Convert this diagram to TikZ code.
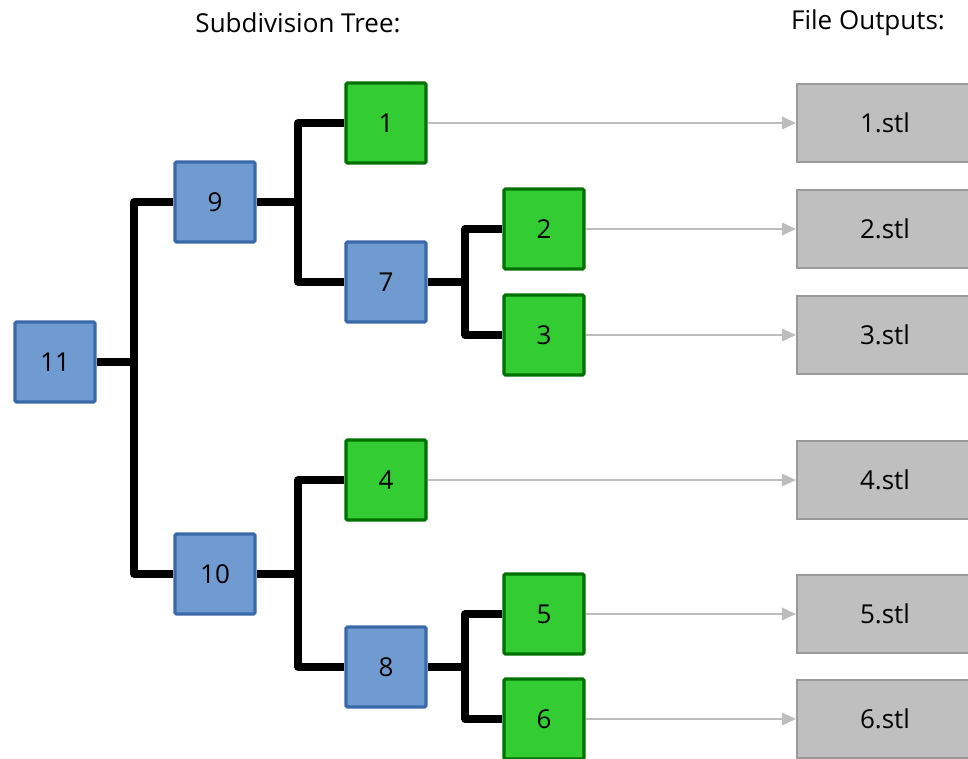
\documentclass[tikz,border=0pt]{standalone}
\usepackage{fontspec}
\setmainfont{Open Sans}
\usetikzlibrary{arrows.meta}

\definecolor{splitfill}{HTML}{6F9BD1}
\definecolor{splitline}{HTML}{3A69AA}
\definecolor{leaffill}{HTML}{33CC33}
\definecolor{leafline}{HTML}{007000}
\definecolor{filefill}{HTML}{BFBFBF}
\definecolor{fileline}{HTML}{9A9A9A}
\definecolor{outarrow}{HTML}{BDBDBD}

\begin{document}
\begin{tikzpicture}[x=0.025cm, y=-0.025cm,
    split/.style={draw=splitline, fill=splitfill, line width=2.2pt, rounded corners=1pt,
                  minimum width=2cm, minimum height=2cm, inner sep=0pt, font=\fontsize{18.5}{22}\selectfont},
    leaf/.style={split, draw=leafline, fill=leaffill},
    stlfile/.style={draw=fileline, fill=filefill, line width=1.5pt,
                  minimum width=4.4cm, minimum height=1.95cm, inner sep=0pt, font=\fontsize{18.5}{22}\selectfont},
    title/.style={font=\fontsize{18.5}{22}\selectfont},
    branch/.style={line width=5.5pt, line join=round},
    output/.style={draw=outarrow, line width=1.1pt, -{Triangle[length=10pt, width=9pt]}}]
    \useasboundingbox (0,0) rectangle (968,758);

    % Titles
    \node [title] (treehead) at (298,23) {Subdivision Tree:};
    \node [title] (filehead) at (868,23) {File Outputs:};

    % Nodes {11, 9, 10, 7, 8, leaves 1-6}
    \node [split] (n11) at (55,362)  {11};
    \node [split] (n9)  at (215,202) {9};
    \node [split] (n10) at (215,574) {10};
    \node [leaf]  (n1)  at (386,123) {1};
    \node [split] (n7)  at (386,282) {7};
    \node [leaf]  (n4)  at (386,480) {4};
    \node [split] (n8)  at (386,667) {8};
    \node [leaf]  (n2)  at (544,229) {2};
    \node [leaf]  (n3)  at (544,335) {3};
    \node [leaf]  (n5)  at (544,614) {5};
    \node [leaf]  (n6)  at (544,719) {6};

    % Files
    \node [stlfile] (f1) at (885,123) {1.stl};
    \node [stlfile] (f2) at (885,229) {2.stl};
    \node [stlfile] (f3) at (885,335) {3.stl};
    \node [stlfile] (f4) at (885,480) {4.stl};
    \node [stlfile] (f5) at (885,614) {5.stl};
    \node [stlfile] (f6) at (885,719) {6.stl};

    % Junctions
    \coordinate (j11) at (134,362);
    \coordinate (j9)  at (298,202);
    \coordinate (j10) at (298,574);
    \coordinate (j7)  at (465,282);
    \coordinate (j8)  at (465,667);

    % Branches
    \draw [branch] (n11) -- (j11);
    \draw [branch] (n9.west) -| (j11) |- (n10.west);
    \draw [branch] (n9) -- (j9);
    \draw [branch] (n1.west) -| (j9) |- (n7.west);
    \draw [branch] (n10) -- (j10);
    \draw [branch] (n4.west) -| (j10) |- (n8.west);
    \draw [branch] (n7) -- (j7);
    \draw [branch] (n2.west) -| (j7) |- (n3.west);
    \draw [branch] (n8) -- (j8);
    \draw [branch] (n5.west) -| (j8) |- (n6.west);

    % Outputs
    \draw [output] (n1) -- (f1);
    \draw [output] (n2) -- (f2);
    \draw [output] (n3) -- (f3);
    \draw [output] (n4) -- (f4);
    \draw [output] (n5) -- (f5);
    \draw [output] (n6) -- (f6);

\end{tikzpicture}
\end{document}
